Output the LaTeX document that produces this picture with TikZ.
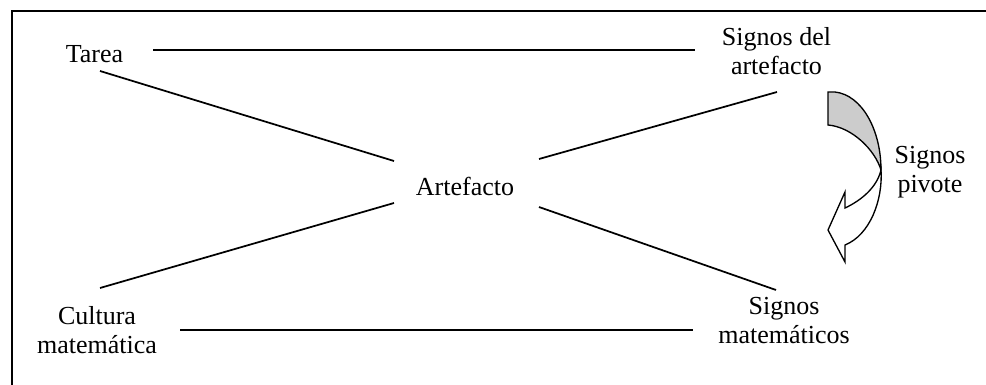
\documentclass[tikz,border=0pt]{standalone}
\usepackage{fontspec}
\setmainfont{Liberation Serif}
\begin{document}
\begin{tikzpicture}[x=0.75pt,y=-0.75pt,
  lbl/.style={inner sep=0pt,align=center,font=\fontsize{19.5pt}{21.75pt}\selectfont},
  conn/.style={line width=1.3pt},
  frame/.style={line width=1.5pt},
  arrowpart/.style={line width=1pt,line join=miter}]
\useasboundingbox (0,0) rectangle (986,385);
\draw[frame] (11.5,385) -- (11.5,11.5) -- (986,11.5);

\node[lbl] (tarea) at (94.5,54.4) {Tarea};
\node[lbl] (sda) at (776.5,51.6) {Signos del\\artefacto};
\node[lbl] (art) at (465,186) {Artefacto};
\node[lbl] (cm) at (97,330) {Cultura\\matemática};
\node[lbl] (sm) at (784,321) {Signos\\matemáticos};
\node[lbl] (sp) at (930,172) {Signos\\pivote};

\draw[conn] ([shift={(58.5,-4.4)}]tarea.center) -- ([shift={(-81.5,-1.6)}]sda.center);
\draw[conn] ([shift={(5.5,16.6)}]tarea.center) -- ([shift={(-71,-25)}]art.center);
\draw[conn] ([shift={(3,-42)}]cm.center) -- ([shift={(-71,17)}]art.center);
\draw[conn] ([shift={(74,-27)}]art.center) -- ([shift={(0.5,40.4)}]sda.center);
\draw[conn] ([shift={(74,21)}]art.center) -- ([shift={(-8,-31)}]sm.center);
\draw[conn] ([shift={(83,0)}]cm.center) -- ([shift={(-91,9)}]sm.center);

% curved arrow (signos pivote)
\draw[arrowpart,fill=gray!40] (828,92) -- (835,92) .. controls (862,95) and (881,130) .. (881,170)
  .. controls (875,150) and (852,127) .. (828,125) -- cycle;
\draw[arrowpart,fill=white] (881,170) .. controls (883,200) and (870,235) .. (845,245)
  -- (845,262) -- (828,230) -- (845,192) -- (845,208)
  .. controls (862,200) and (877,187) .. (881,170) -- cycle;
\end{tikzpicture}
\end{document}
